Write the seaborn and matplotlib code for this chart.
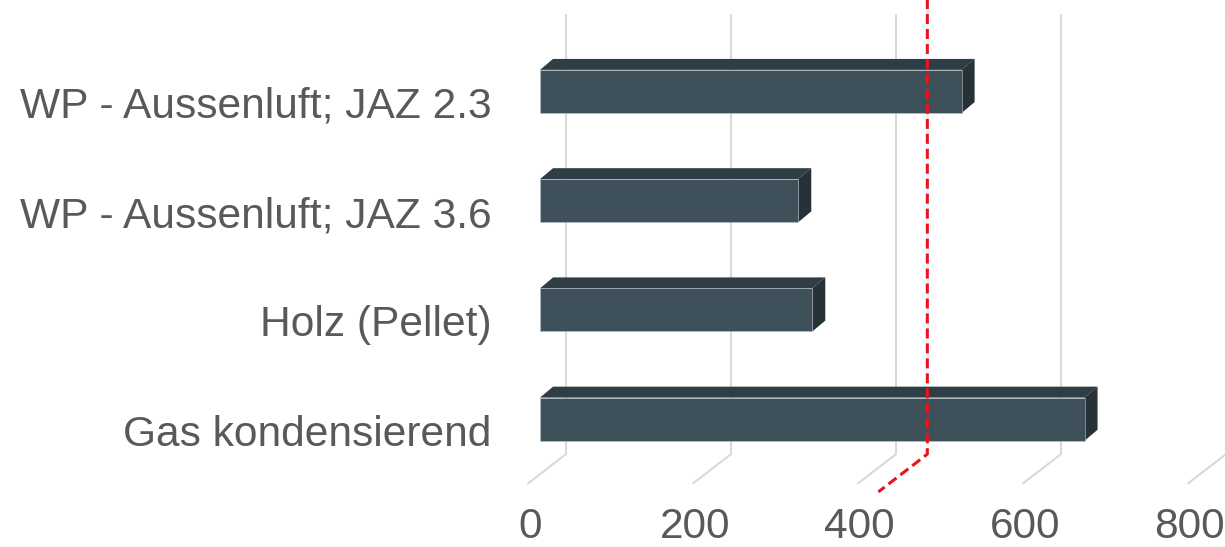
import matplotlib
matplotlib.use("Agg")
import matplotlib.pyplot as plt
import matplotlib.transforms as mtransforms
import seaborn as sns
import pandas as pd
from matplotlib.patches import Polygon

# Daten
categories = ["WP - Aussenluft; JAZ 2.3", "WP - Aussenluft; JAZ 3.6",
              "Holz (Pellet)", "Gas kondensierend"]
values = [511, 313, 330, 660]
tick_values = [0, 200, 400, 600, 800]
limit_value = 438

df = pd.DataFrame({"cat": categories, "val": values})

# 3D-Optik (in Dateneinheiten)
depth_x = 15.8      # Tiefe der Balken nach rechts
depth_y = 0.10      # Tiefe der Balken nach oben
wall_x = 31.5       # Rückwand gegenüber Balkenfront
floor_x = -14.5     # Vorderkante Boden
wall_top, wall_bottom, floor_front = -0.70, 3.32, 3.588
bar_h = 0.395

front_col = "#3e5059"
top_col = "#2f3d44"
side_col = "#263238"
grid_col = "#d9d9d9"
text_col = "#595959"

sns.set_style("white")
plt.rcParams["font.family"] = ["Liberation Sans", "DejaVu Sans"]

fig = plt.figure(figsize=(12.25, 5.47), dpi=100)
ax = fig.add_axes([500 / 1225, 47 / 547, 725 / 1225, 500 / 547])

# Gitterlinien: Rückwand + Boden
for v in tick_values:
    ax.plot([v + wall_x, v + wall_x], [wall_top, wall_bottom], color=grid_col, lw=1.5,
            zorder=0, clip_on=False)
    ax.plot([v + wall_x, v + floor_x], [wall_bottom, floor_front], color=grid_col, lw=1.5,
            zorder=0, clip_on=False)

sns.barplot(data=df, x="val", y="cat", orient="h", color=front_col, width=bar_h,
            saturation=1, ax=ax, zorder=3, edgecolor="#b9c2c7", linewidth=0.4)

# Deck- und Seitenflächen aus den Balken ableiten
for p in ax.patches:
    x0 = p.get_x()
    w = p.get_width()
    top = p.get_y()
    bot = p.get_y() + p.get_height()
    topface = Polygon([(x0, top), (x0 + depth_x, top - depth_y),
                       (x0 + w + depth_x, top - depth_y), (x0 + w, top)],
                      closed=True, facecolor=top_col, edgecolor="none", zorder=2)
    side = Polygon([(x0 + w, top), (x0 + w + depth_x, top - depth_y),
                    (x0 + w + depth_x, bot - depth_y), (x0 + w, bot)],
                   closed=True, facecolor=side_col, edgecolor="none", zorder=2)
    ax.add_patch(topface)
    ax.add_patch(side)

# rote Grenzlinie
lx = limit_value + wall_x
ext = 1.29
ax.plot([lx, lx, lx + (floor_x - wall_x) * ext],
        [-2, wall_bottom, wall_bottom + (floor_front - wall_bottom) * ext],
        color="#e8141e", lw=2.2, dashes=(3.3, 1.6), zorder=5, clip_on=False)

ax.set_xlim(-48.5, 830.3)
ax.set_ylim(3.74, -0.837)
ax.set_xticks([v - 12.5 for v in tick_values])
ax.set_xticklabels([str(v) for v in tick_values])
ax.tick_params(axis="x", length=0, pad=5, labelsize=30.5, labelcolor=text_col)
ax.tick_params(axis="y", length=0, pad=6, labelsize=30.6, labelcolor=text_col)
ax.set_xlabel("")
ax.set_ylabel("")
sns.despine(ax=ax, left=True, bottom=True)

# Kategorien etwas tiefer als die Balkenfront
shift = mtransforms.ScaledTranslation(0, -11 / 100, fig.dpi_scale_trans)
for lab in ax.get_yticklabels():
    lab.set_transform(lab.get_transform() + shift)

fig.savefig("out.png", dpi=100)
